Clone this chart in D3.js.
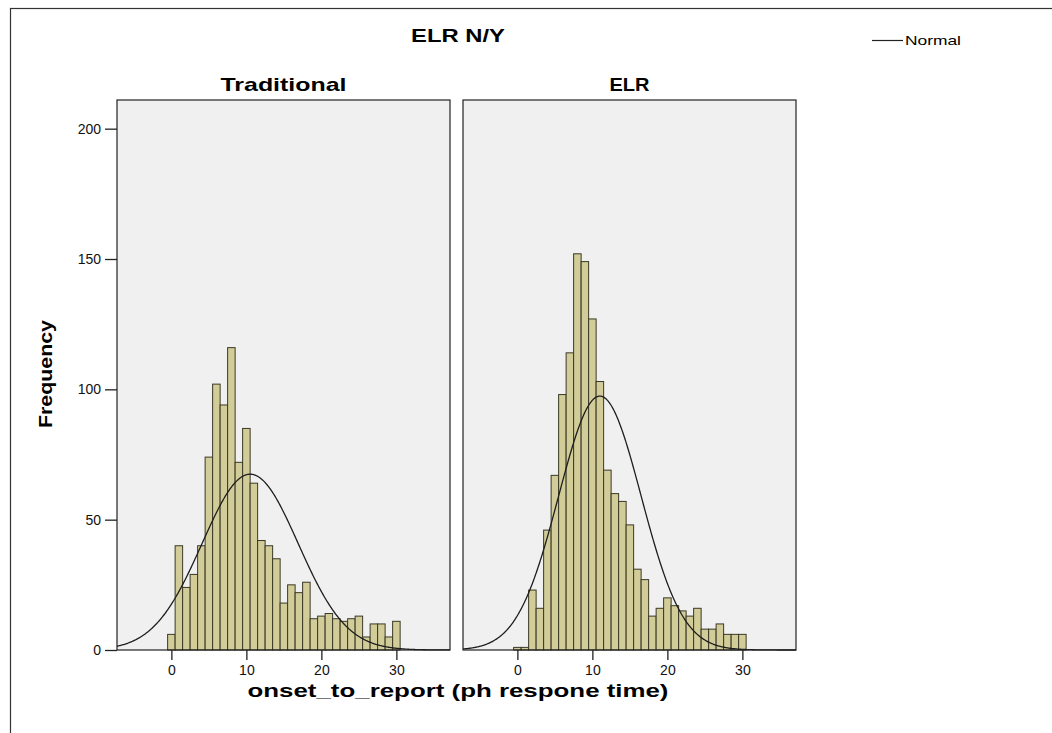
<!DOCTYPE html>
<html>
<head>
<meta charset="utf-8">
<script src="https://cdn.jsdelivr.net/npm/d3@7"></script>
<style>
  body { margin: 0; background: #fff; }
  svg { display: block; font-family: "Liberation Sans", Arial, sans-serif; }
</style>
</head>
<body>
<div id="chart"></div>
<script>
// histogram counts, bins centred on 0..30 (width 1)
const bins = d3.range(0, 31)
const traditional = [6, 40, 24, 29, 40, 74, 102, 94, 116, 72, 85, 64, 42, 40, 35, 18, 25, 22, 26, 12, 13, 14, 12, 11, 12, 13, 5, 10, 10, 5, 11]
const elr = [1, 1, 23, 16, 46, 67, 98, 114, 152, 149, 127, 103, 69, 60, 57, 48, 31, 27, 13, 16, 20, 17, 15, 13, 16, 8, 8, 10, 6, 6, 6]

// normal fit
const panelNames = ["Traditional", "ELR"]
const normalMean = [10.5, 11.0]
const normalSd = [6.4, 5.5]

const xTicks = [0, 10, 20, 30]
const yTicks = [0, 50, 100, 150, 200]

const width = 1052, height = 733
const panelW = 333, panelTop = 100, panelBottom = 650
const panelLeft = [117, 463]
// the source picture is stretched sideways, so texts get a fixed length
const panelTitleLen = [126, 40]

const svg = d3.select("#chart").append("svg")
    .attr("width", width)
    .attr("height", height)

// outer frame
svg.append("rect")
    .attr("x", 10.5).attr("y", 8.5)
    .attr("width", width).attr("height", height)
    .attr("fill", "none")
    .attr("stroke", "#333")
    .attr("stroke-width", 1.2)

svg.append("text")
    .attr("x", 458).attr("y", 42)
    .attr("text-anchor", "middle")
    .attr("font-weight", "bold")
    .attr("font-size", 18)
    .attr("textLength", 94)
    .attr("lengthAdjust", "spacingAndGlyphs")
    .text("ELR N/Y")

// legend
svg.append("line")
    .attr("x1", 872).attr("x2", 903)
    .attr("y1", 40.5).attr("y2", 40.5)
    .attr("stroke", "#222").attr("stroke-width", 1.2)
svg.append("text")
    .attr("x", 905).attr("y", 45)
    .attr("font-size", 13)
    .attr("textLength", 56)
    .attr("lengthAdjust", "spacingAndGlyphs")
    .text("Normal")

const yScale = d3.scaleLinear()
    .domain([0, 211])
    .range([panelBottom, panelTop])

const series = [traditional, elr]

series.forEach((counts, i) => {
    const x0 = panelLeft[i]
    const xScale = d3.scaleLinear()
        .domain([-7.25, 37.15])
        .range([x0, x0 + panelW])

    const g = svg.append("g")

    g.append("text")
        .attr("x", x0 + panelW / 2)
        .attr("y", 91)
        .attr("text-anchor", "middle")
        .attr("font-weight", "bold")
        .attr("font-size", 19)
        .attr("textLength", panelTitleLen[i])
        .attr("lengthAdjust", "spacingAndGlyphs")
        .text(panelNames[i])

    g.append("rect")
        .attr("x", x0).attr("y", panelTop)
        .attr("width", panelW).attr("height", panelBottom - panelTop)
        .attr("fill", "#f0f0f0")

    g.selectAll("rect.bar")
        .data(bins)
        .enter()
        .append("rect")
        .attr("class", "bar")
        .attr("x", d => xScale(d - 0.5))
        .attr("y", d => yScale(counts[d]))
        .attr("width", d => xScale(d + 0.5) - xScale(d - 0.5))
        .attr("height", d => yScale(0) - yScale(counts[d]))
        .attr("fill", "#d2cc98")
        .attr("stroke", "#3a3826")
        .attr("stroke-width", 1)

    // normal curve scaled to counts
    const n = d3.sum(counts)
    const mu = normalMean[i], sd = normalSd[i]
    const pdf = v => n / (sd * Math.sqrt(2 * Math.PI)) * Math.exp(-((v - mu) ** 2) / (2 * sd * sd))
    const curveX = d3.range(xScale.domain()[0], xScale.domain()[1] + 0.01, 0.1)
    g.append("path")
        .datum(curveX)
        .attr("fill", "none")
        .attr("stroke", "#1e1e1e")
        .attr("stroke-width", 1.3)
        .attr("d", d3.line().x(d => xScale(d)).y(d => yScale(pdf(d))))

    g.append("rect")
        .attr("x", x0).attr("y", panelTop)
        .attr("width", panelW).attr("height", panelBottom - panelTop)
        .attr("fill", "none")
        .attr("stroke", "#222")
        .attr("stroke-width", 1.2)

    const xAxis = g.append("g")
        .attr("transform", `translate(0,${panelBottom})`)
        .call(d3.axisBottom(xScale).tickValues(xTicks).tickSize(10).tickPadding(5))
    xAxis.select(".domain").remove()
    xAxis.selectAll("line").attr("stroke", "#222").attr("stroke-width", 1.3)
    xAxis.selectAll("text").attr("font-size", 14).attr("fill", "#111")
        .attr("font-family", "Liberation Sans, Arial, sans-serif")

    if (i === 0) {
        const yAxis = g.append("g")
            .attr("transform", `translate(${x0},0)`)
            .call(d3.axisLeft(yScale).tickValues(yTicks).tickSize(12).tickPadding(4))
        yAxis.select(".domain").remove()
        yAxis.selectAll("line").attr("stroke", "#222").attr("stroke-width", 1.3)
        yAxis.selectAll("text").attr("font-size", 14).attr("fill", "#111")
            .attr("font-family", "Liberation Sans, Arial, sans-serif")
    }
})

svg.append("text")
    .attr("x", 458).attr("y", 697)
    .attr("text-anchor", "middle")
    .attr("font-weight", "bold")
    .attr("font-size", 19)
    .attr("textLength", 421)
    .attr("lengthAdjust", "spacingAndGlyphs")
    .text("onset_to_report (ph respone time)")

svg.append("text")
    .attr("transform", "translate(52,374) rotate(-90)")
    .attr("text-anchor", "middle")
    .attr("font-weight", "bold")
    .attr("font-size", 18)
    .attr("textLength", 108)
    .attr("lengthAdjust", "spacingAndGlyphs")
    .text("Frequency")
</script>
</body>
</html>
